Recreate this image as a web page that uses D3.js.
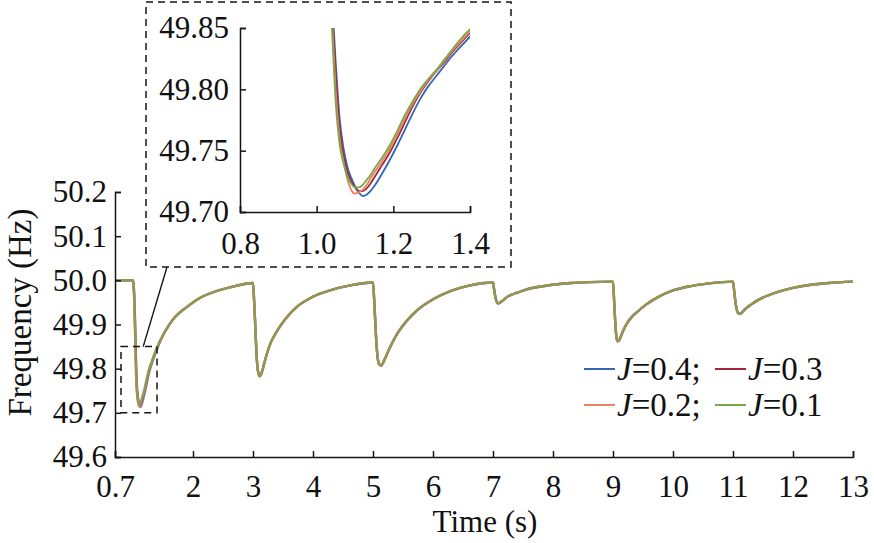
<!DOCTYPE html>
<html><head><meta charset="utf-8">
<script src="https://cdn.jsdelivr.net/npm/d3@7"></script>
<style>
body{margin:0;background:#fff}
svg{display:block}
text{font-family:"Liberation Serif","Times New Roman",serif;fill:#111}
</style>
</head><body>
<svg id="c" width="874" height="543"></svg>
<script>
// ---------- data ----------
const xTicks = [0.7, 2, 3, 4, 5, 6, 7, 8, 9, 10, 11, 12, 13];
const yTicks = [49.6, 49.7, 49.8, 49.9, 50.0, 50.1, 50.2];
const insetXTicks = [0.8, 1.0, 1.2, 1.4];
const insetYTicks = [49.70, 49.75, 49.80, 49.85];
const seriesNames = ["0.4", "0.3", "0.2", "0.1"];
const seriesColors = ["#3566b0", "#a3243b", "#e8835f", "#78a84a"];

// first disturbance (detail, per series)
const timeHead = [0.70,0.90,1.00,1.01,1.02,1.03,1.04,1.05,1.06,1.07,1.08,1.09,1.10,1.11,1.12,1.13,1.14,1.15,1.17,1.19,1.21,1.23,1.25,1.27,1.29,1.31,1.33,1.35,1.37,1.40];
const headJ04 = [50.000,50.000,50.000,49.991,49.968,49.928,49.874,49.820,49.776,49.752,49.737,49.728,49.721,49.716,49.713,49.714,49.717,49.721,49.731,49.742,49.754,49.767,49.780,49.792,49.802,49.810,49.818,49.826,49.833,49.843];
const headJ03 = [50.000,50.000,50.000,49.990,49.965,49.922,49.866,49.810,49.768,49.746,49.733,49.725,49.720,49.717,49.717,49.719,49.723,49.728,49.738,49.748,49.760,49.773,49.786,49.797,49.806,49.814,49.821,49.829,49.836,49.846];
const headJ02 = [50.000,50.000,50.000,49.988,49.960,49.915,49.858,49.798,49.760,49.741,49.727,49.718,49.715,49.716,49.718,49.722,49.727,49.732,49.741,49.751,49.763,49.776,49.788,49.798,49.807,49.814,49.822,49.830,49.837,49.847];
const headJ01 = [50.000,50.000,50.000,49.986,49.955,49.908,49.848,49.788,49.755,49.740,49.729,49.723,49.720,49.720,49.722,49.726,49.730,49.735,49.744,49.754,49.766,49.779,49.790,49.800,49.808,49.815,49.823,49.831,49.839,49.849];

// rest of the record (curves coincide at this scale)
const timeTail = [1.45,1.55,1.70,1.90,2.10,2.40,2.70,
 3.00,3.02,3.04,3.06,3.08,3.11,3.14,3.18,3.23,3.30,3.40,3.55,3.75,4.00,4.30,4.60,
 5.00,5.02,5.04,5.06,5.08,5.11,5.14,5.18,5.23,5.30,5.40,5.55,5.75,6.00,6.30,6.60,
 7.00,7.02,7.04,7.06,7.08,7.11,7.14,7.18,7.23,7.30,7.40,7.55,7.75,8.00,8.30,8.60,
 9.00,9.02,9.04,9.06,9.08,9.11,9.14,9.18,9.23,9.30,9.40,9.55,9.75,10.00,10.30,10.60,
 11.00,11.02,11.04,11.06,11.08,11.11,11.14,11.18,11.23,11.30,11.40,11.55,11.75,12.00,12.30,12.60,
 13.00];
const freqTail = [49.862,49.888,49.917,49.940,49.959,49.976,49.987,
 49.994,49.950,49.890,49.830,49.797,49.783,49.789,49.808,49.833,49.860,49.885,49.914,49.942,49.963,49.978,49.988,
 49.995,49.955,49.900,49.852,49.822,49.809,49.807,49.817,49.832,49.853,49.878,49.906,49.934,49.957,49.976,49.988,
 49.995,49.978,49.962,49.952,49.948,49.949,49.952,49.956,49.962,49.967,49.972,49.979,49.985,49.990,49.994,49.996,
 49.997,49.950,49.900,49.869,49.862,49.866,49.876,49.889,49.902,49.915,49.928,49.945,49.962,49.977,49.987,49.993,
 49.997,49.975,49.952,49.935,49.927,49.924,49.926,49.932,49.938,49.945,49.954,49.964,49.974,49.983,49.990,49.994,
 49.997];

// ---------- build ----------
const heads = [headJ04, headJ03, headJ02, headJ01];
const times = timeHead.concat(timeTail);
const series = seriesNames.map((n, i) => {
  const f = heads[i].concat(freqTail);
  return { name: n, color: seriesColors[i], pts: times.map((t, k) => [t, f[k]]) };
});

const svg = d3.select("#c");
const ink = "#151515";
const serif = '"Liberation Serif","Times New Roman",serif';

// main scales
const x = d3.scaleLinear().domain([0.7, 13]).range([115, 853]);
const y = d3.scaleLinear().domain([49.6, 50.2]).range([457, 192]);

const line = d3.line().x(d => x(d[0])).y(d => y(d[1])).curve(d3.curveMonotoneX);
const gLines = svg.append("g");
series.forEach(s => {
  gLines.append("path").attr("d", line(s.pts)).attr("fill", "none")
    .attr("stroke", s.color).attr("stroke-width", 2.4).attr("stroke-opacity", 0.7)
    .attr("stroke-linejoin", "round");
});

function styleAxis(g, fs) {
  g.selectAll("path,line").attr("stroke", ink).attr("stroke-width", 1.5);
  g.select(".domain").attr("fill", "none");
  g.selectAll("text").attr("fill", ink).style("font-size", fs + "px").style("font-family", serif);
}

const gx = svg.append("g").attr("transform", `translate(0,${y(49.6)})`)
  .call(d3.axisBottom(x).tickValues(xTicks).tickFormat(d => d === 0.7 ? "0.7" : d3.format("d")(d))
    .tickSizeInner(-6).tickSizeOuter(-6).tickPadding(18));
styleAxis(gx, 31);
const gy = svg.append("g").attr("transform", `translate(${x(0.7)},0)`)
  .call(d3.axisLeft(y).tickValues(yTicks).tickFormat(d3.format(".1f"))
    .tickSizeInner(-6).tickSizeOuter(-6).tickPadding(8));
styleAxis(gy, 31);

// axis titles
svg.append("text").attr("x", (x(0.7) + x(13)) / 2 + 1).attr("y", 532)
  .attr("text-anchor", "middle").style("font-size", "31px").text("Time (s)");
svg.append("text").attr("transform", `translate(31,${(y(49.6) + y(50.2)) / 2 - 12}) rotate(-90)`)
  .attr("text-anchor", "middle").style("font-size", "33px").text("Frequency (Hz)");

// zoom window on main plot
const dash = "7,5";
svg.append("rect").attr("x", x(0.8)).attr("y", y(49.85))
  .attr("width", x(1.4) - x(0.8)).attr("height", y(49.70) - y(49.85))
  .attr("fill", "none").attr("stroke", ink).attr("stroke-width", 1.5).attr("stroke-dasharray", dash);

// inset frame
svg.append("rect").attr("x", 146).attr("y", 2).attr("width", 365).attr("height", 265)
  .attr("fill", "#fff").attr("stroke", ink).attr("stroke-width", 1.5).attr("stroke-dasharray", dash);
svg.append("line").attr("x1", x(1.17)).attr("y1", y(49.85)).attr("x2", 167).attr("y2", 267)
  .attr("stroke", ink).attr("stroke-width", 1.4);

// inset plot
const xi = d3.scaleLinear().domain([0.8, 1.4]).range([240, 470]);
const yi = d3.scaleLinear().domain([49.70, 49.85]).range([212, 28]);
svg.append("clipPath").attr("id", "ic").append("rect")
  .attr("x", xi(0.8)).attr("y", yi(49.85)).attr("width", xi(1.4) - xi(0.8)).attr("height", yi(49.70) - yi(49.85));
const lineI = d3.line().x(d => xi(d[0])).y(d => yi(d[1])).curve(d3.curveMonotoneX);
const gI = svg.append("g").attr("clip-path", "url(#ic)");
series.forEach(s => {
  gI.append("path").attr("d", lineI(s.pts.filter(p => p[0] <= 1.45))).attr("fill", "none")
    .attr("stroke", s.color).attr("stroke-width", 1.8).attr("stroke-linejoin", "round");
});
const gxi = svg.append("g").attr("transform", `translate(0,${yi(49.70)})`)
  .call(d3.axisBottom(xi).tickValues(insetXTicks).tickFormat(d3.format(".1f"))
    .tickSizeInner(-6).tickSizeOuter(-6).tickPadding(20));
styleAxis(gxi, 31);
const gyi = svg.append("g").attr("transform", `translate(${xi(0.8)},0)`)
  .call(d3.axisLeft(yi).tickValues(insetYTicks).tickFormat(d3.format(".2f"))
    .tickSizeInner(-6).tickSizeOuter(-6).tickPadding(11));
styleAxis(gyi, 31);

// legend
const legPos = [[584, 369], [715, 369], [584, 405], [715, 405]];
series.forEach((s, i) => {
  const [lx, ly] = legPos[i];
  svg.append("line").attr("x1", lx).attr("x2", lx + 31).attr("y1", ly).attr("y2", ly)
    .attr("stroke", s.color).attr("stroke-width", 2);
  const t = svg.append("text").attr("x", lx + 33).attr("y", ly + 11).style("font-size", "33px");
  t.append("tspan").style("font-style", "italic").text("J");
  t.append("tspan").text("=" + s.name + (i % 2 === 0 ? ";" : ""));
});
</script>
</body></html>
